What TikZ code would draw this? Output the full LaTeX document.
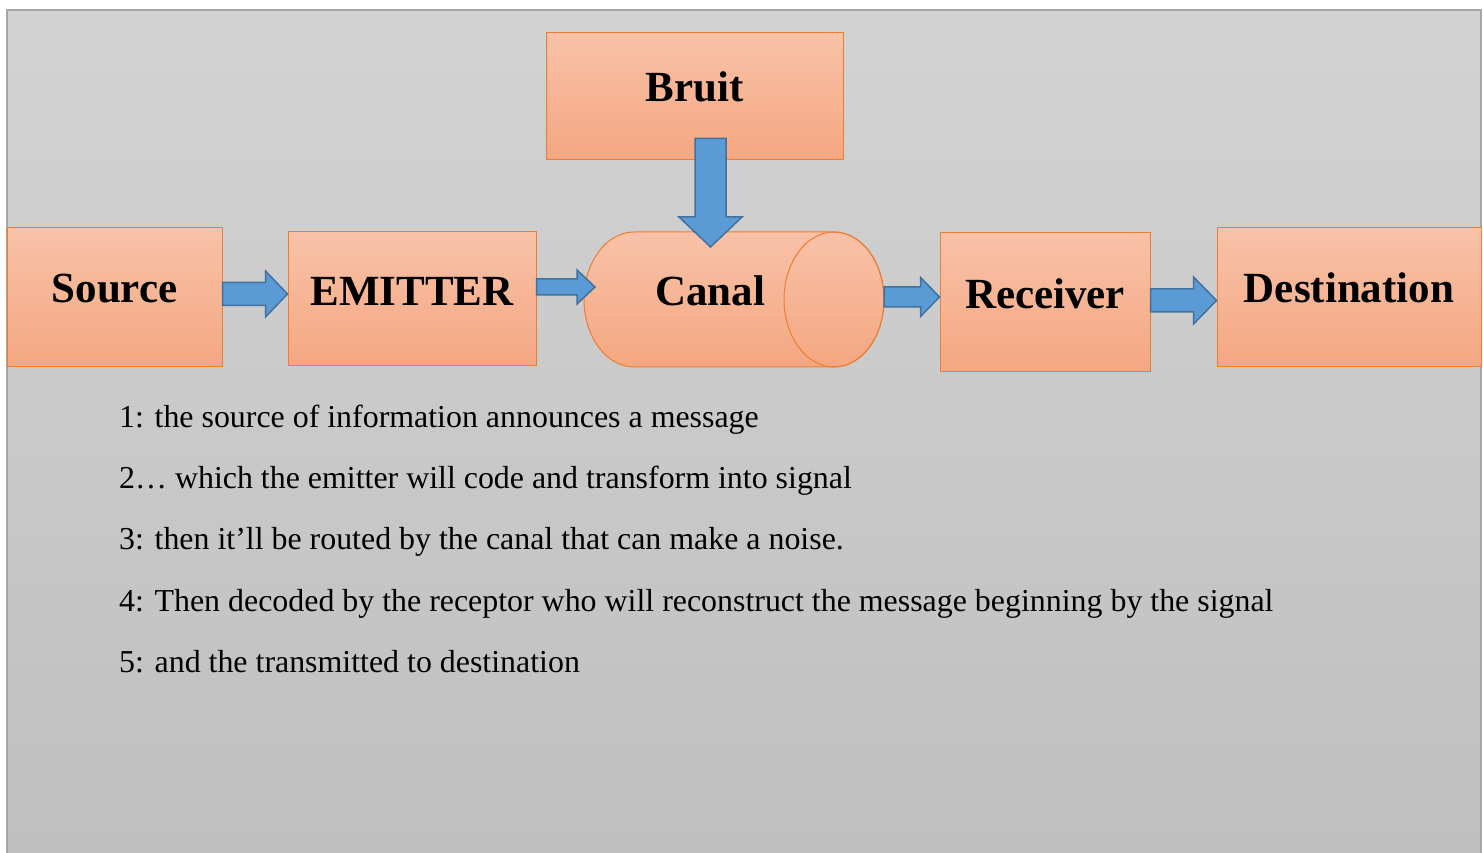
\documentclass[tikz,border=0pt]{standalone}
\usepackage{fontspec}
\setmainfont{Liberation Serif}
\usetikzlibrary{calc}
\definecolor{panelTop}{HTML}{D3D3D3}
\definecolor{panelBot}{HTML}{BFBFBF}
\definecolor{panelLine}{HTML}{A6A6A6}
\definecolor{boxTop}{HTML}{F8C2A8}
\definecolor{boxBot}{HTML}{F4A781}
\definecolor{boxLine}{HTML}{ED7D31}
\definecolor{arrFill}{HTML}{5B9BD5}
\definecolor{arrLine}{HTML}{41719C}
\tikzset{
  box/.style={draw=boxLine, line width=1pt, top color=boxTop, bottom color=boxBot, inner sep=0pt},
  lbl/.style={font=\fontsize{43}{51}\selectfont\bfseries, inner sep=0pt},
  body/.style={font=\fontsize{31.9}{38}\selectfont, inner sep=0pt, anchor=base west},
  blk/.style={fill=arrFill, draw=arrLine, line width=1.5pt, line join=miter}
}
% horizontal block arrow: from, to, y centre, shaft half, head half, head length
\newcommand\hblock[6]{%
  \draw[blk] let \p1=#1, \p2=#2 in
    (\x1,#3pt+#4pt) -- (\x2-#6pt,#3pt+#4pt) -- (\x2-#6pt,#3pt+#5pt) -- (\x2,#3pt)
    -- (\x2-#6pt,#3pt-#5pt) -- (\x2-#6pt,#3pt-#4pt) -- (\x1,#3pt-#4pt) -- cycle;}
\begin{document}
\begin{tikzpicture}[x=1pt,y=1pt]
\useasboundingbox (0,0) rectangle (1483,853);
\fill[white] (0,0) rectangle (1483,853);
% panel
\shade[top color=panelTop, bottom color=panelBot] (7,0) rectangle (1481,843);
\draw[panelLine, line width=1.2pt] (7,0) -- (7,843) -- (1481,843) -- (1481,0);
% boxes
\node[box, minimum width=215pt, minimum height=139pt] (source) at (114.5,555.5) {};
\node[box, minimum width=248pt, minimum height=134pt] (emitter) at (412,554) {};
\node[box, minimum width=297pt, minimum height=127pt] (bruit) at (694.5,756.5) {};
\node[box, minimum width=210pt, minimum height=139pt] (receiver) at (1045,550.5) {};
\node[box, minimum width=264pt, minimum height=139pt] (destination) at (1349,555.5) {};
% canal cylinder
\path[draw=boxLine, line width=1pt, top color=boxTop, bottom color=boxBot]
  (634,621) arc[start angle=90, end angle=270, x radius=50, y radius=67.5]
  -- (834,486) arc[start angle=-90, end angle=90, x radius=50, y radius=67.5] -- cycle;
\draw[boxLine, line width=1pt] (834,553.5) ellipse[x radius=50, y radius=67.5];
\coordinate (canalin) at (595,566);
\coordinate (canalout) at (884,556);
\coordinate (canaltop) at (710.5,606);
% labels
\node[lbl] at ([yshift=9pt]source.center) {Source};
\node[lbl] at ([yshift=8pt]emitter.center) {EMITTER};
\node[lbl] at ([yshift=9.5pt]bruit.center) {Bruit};
\node[lbl] (canal) at (710,562) {Canal};
\node[lbl] at ([yshift=8.5pt]receiver.center) {Receiver};
\node[lbl] at ([yshift=9.5pt]destination.center) {Destination};
% block arrows
\hblock{(source.east)}{(emitter.west)}{559}{11.5}{23}{22}
\hblock{(emitter.east)}{(canalin)}{566}{8}{17}{18}
\hblock{(canalout)}{(receiver.west)}{556}{10}{19.5}{19}
\hblock{(receiver.east)}{(destination.west)}{552.5}{11.5}{23.5}{23}
\draw[blk] let \p1=(bruit.south), \p2=(canaltop) in
  (\x2-15.5pt,\y1+22pt) -- (\x2-15.5pt,\y2+30pt) -- (\x2-31.5pt,\y2+30pt) -- (\x2,\y2)
  -- (\x2+31.5pt,\y2+30pt) -- (\x2+15.5pt,\y2+30pt) -- (\x2+15.5pt,\y1+22pt) -- cycle;
% body text
\node[body] (t1) at (119,425) {1: the source of information announces a message};
\node[body] (t2) at (119,364) {2\ldots{} which the emitter will code and transform into signal};
\node[body] (t3) at (119,303) {3: then it’ll be routed by the canal that can make a noise.};
\node[body] (t4) at (119,241) {4: Then decoded by the receptor who will reconstruct the message beginning by the signal};
\node[body] (t5) at (119,180) {5: and the transmitted to destination};
\end{tikzpicture}
\end{document}
